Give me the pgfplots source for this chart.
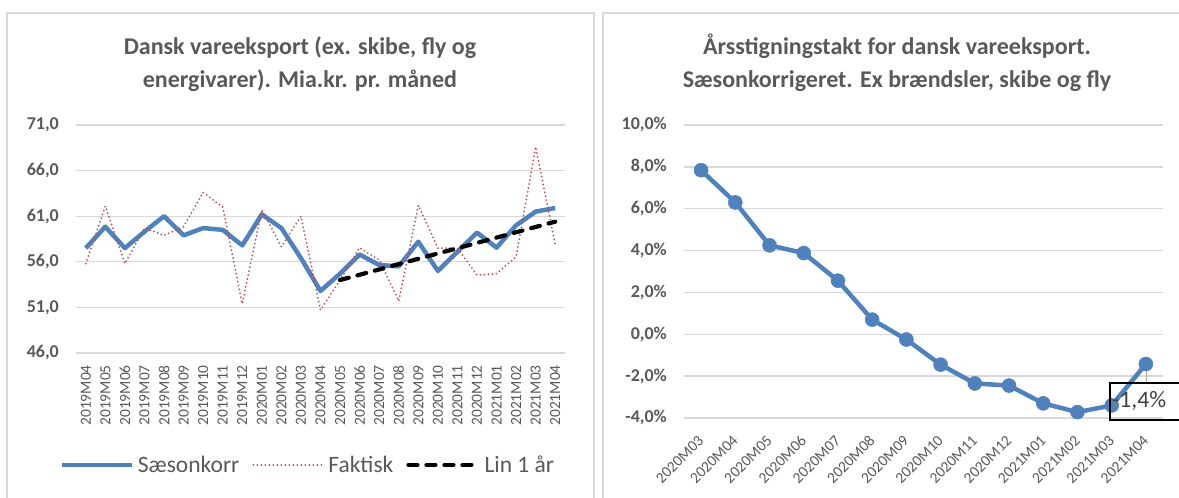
\documentclass[border=0pt]{standalone}
\usepackage{pgfplots}
\pgfplotsset{compat=1.18}
\usepackage{fontspec}
\setmainfont{Carlito}
\definecolor{xblue}{HTML}{4F81BD}
\definecolor{xred}{HTML}{C0504D}
\definecolor{xgrid}{HTML}{D9D9D9}
\definecolor{xtext}{HTML}{595959}
\definecolor{xborder}{HTML}{D9D9D9}
\definecolor{xlabel}{HTML}{404040}

\pgfplotsset{
  excel/.style={
    scale only axis,
    axis line style={draw=none},
    major tick length=0pt,
    ymajorgrids,
    grid style={xgrid, line width=1.3pt},
    yticklabel style={font=\fontsize{18}{20}\selectfont\bfseries, text=xtext, inner sep=0pt},
    xticklabel style={font=\fontsize{15.5}{18}\selectfont, text=xtext, inner sep=0pt},
    yticklabel shift=17pt,
  }
}

\begin{document}
\begin{tikzpicture}[x=1pt,y=1pt]
% panel borders
\draw[xborder, line width=1.2pt] (7,-5) |- (594,485) -- (594,-5);
\draw[xborder, line width=1.2pt] (603,-5) |- (1190,485);

% titles (anchor=base refers to the last line)
\node[font=\fontsize{24}{33.5}\selectfont\bfseries, text=xtext, align=center, anchor=base] at (300,410)
  {Dansk vareeksport (ex. skibe, fly og\\energivarer). Mia.kr. pr. måned};
\node[font=\fontsize{24}{33.5}\selectfont\bfseries, text=xtext, align=center, anchor=base] at (897,410)
  {Årsstigningstakt for dansk vareeksport.\\Sæsonkorrigeret. Ex brændsler, skibe og fly};

\begin{axis}[excel, at={(76pt,145pt)}, anchor=south west, width=489pt, height=228pt,
  xmin=-0.5, xmax=24.5, ymin=46, ymax=71,
  ytick={46,51,56,61,66,71},
  yticklabels={{46,0},{51,0},{56,0},{61,0},{66,0},{71,0}},
  xtick={0,...,24},
  xticklabels={2019M04,2019M05,2019M06,2019M07,2019M08,2019M09,2019M10,2019M11,2019M12,
    2020M01,2020M02,2020M03,2020M04,2020M05,2020M06,2020M07,2020M08,2020M09,2020M10,2020M11,2020M12,
    2021M01,2021M02,2021M03,2021M04},
  xticklabel style={rotate=90, anchor=east},
  xticklabel shift=12pt,
  legend columns=3,
  legend image code/.code={\draw[#1] (0pt,0pt) -- (70pt,0pt);},
  legend style={at={(0.476,-0.491)}, anchor=center, draw=none, fill=none,
    font=\fontsize{23.5}{26}\selectfont, text=xtext,
    nodes={text=xtext, inner xsep=4pt},
    /tikz/every even column/.append style={column sep=9pt}},
]
\addplot[xblue, line width=4.5pt, line join=round] coordinates {
(0,57.5) (1,59.85) (2,57.5) (3,59.3) (4,61.0) (5,58.9) (6,59.7) (7,59.5) (8,57.8)
(9,61.2) (10,59.7) (11,56.4) (12,52.8) (13,54.7) (14,56.8) (15,55.65) (16,55.5)
(17,58.2) (18,55.0) (19,57.1) (20,59.2) (21,57.55) (22,60.0) (23,61.5) (24,61.9)};
\addlegendentry{Sæsonkorr}
\addplot[xred, line width=2pt, line cap=round, dash pattern=on 0pt off 4pt] coordinates {
(0,55.8) (1,62.1) (2,55.8) (3,59.7) (4,58.9) (5,59.85) (6,63.6) (7,62.0) (8,51.4)
(9,61.7) (10,57.65) (11,61.0) (12,50.7) (13,54.0) (14,57.55) (15,56.2) (16,51.7)
(17,62.2) (18,57.5) (19,57.5) (20,54.55) (21,54.7) (22,56.55) (23,68.6) (24,57.9)};
\addlegendentry{Faktisk}
\addplot[black, line width=4.2pt, line cap=round, dash pattern=on 9pt off 9pt] coordinates {
(13,54.0) (14,54.58) (15,55.16) (16,55.75) (17,56.33) (18,56.91) (19,57.49)
(20,58.07) (21,58.65) (22,59.24) (23,59.82) (24,60.4)};
\addlegendentry{Lin 1 år}
\end{axis}

\begin{axis}[excel, at={(684pt,80pt)}, anchor=south west, width=479pt, height=293pt,
  xmin=-0.5, xmax=13.5, ymin=-4, ymax=10, clip=false,
  ytick={-4,-2,0,2,4,6,8,10},
  yticklabels={{-4,0\%},{-2,0\%},{0,0\%},{2,0\%},{4,0\%},{6,0\%},{8,0\%},{10,0\%}},
  xtick={0,...,13},
  xticklabels={2020M03,2020M04,2020M05,2020M06,2020M07,2020M08,2020M09,2020M10,2020M11,2020M12,
    2021M01,2021M02,2021M03,2021M04},
  xticklabel style={rotate=45, anchor=east},
  xticklabel shift=20pt,
]
\draw[gray!70, line width=0.8pt] (axis cs:13,-1.42) -- ++(0pt,-18pt);
\addplot[xblue, line width=4.5pt, line join=round, mark=*, mark size=7pt,
  mark options={fill=xblue, draw=xblue, line width=0.5pt}] coordinates {
(0,7.84) (1,6.3) (2,4.25) (3,3.88) (4,2.56) (5,0.7) (6,-0.25) (7,-1.45)
(8,-2.35) (9,-2.45) (10,-3.3) (11,-3.72) (12,-3.4) (13,-1.42)};
\coordinate (lastpt) at (axis cs:13,-1.42);
\end{axis}

% data label for the last point, drawn on top
\node[draw=black, line width=1.6pt, anchor=north west, minimum height=37pt,
  text width=72pt, inner xsep=2.5pt, align=left, text=xlabel,
  font=\fontsize{23.6}{26}\selectfont] at ([xshift=-37pt, yshift=-18pt]lastpt) {-1,4\%};

\pgfresetboundingbox
\path[use as bounding box] (0,0) rectangle (1179,498);
\end{tikzpicture}
\end{document}
